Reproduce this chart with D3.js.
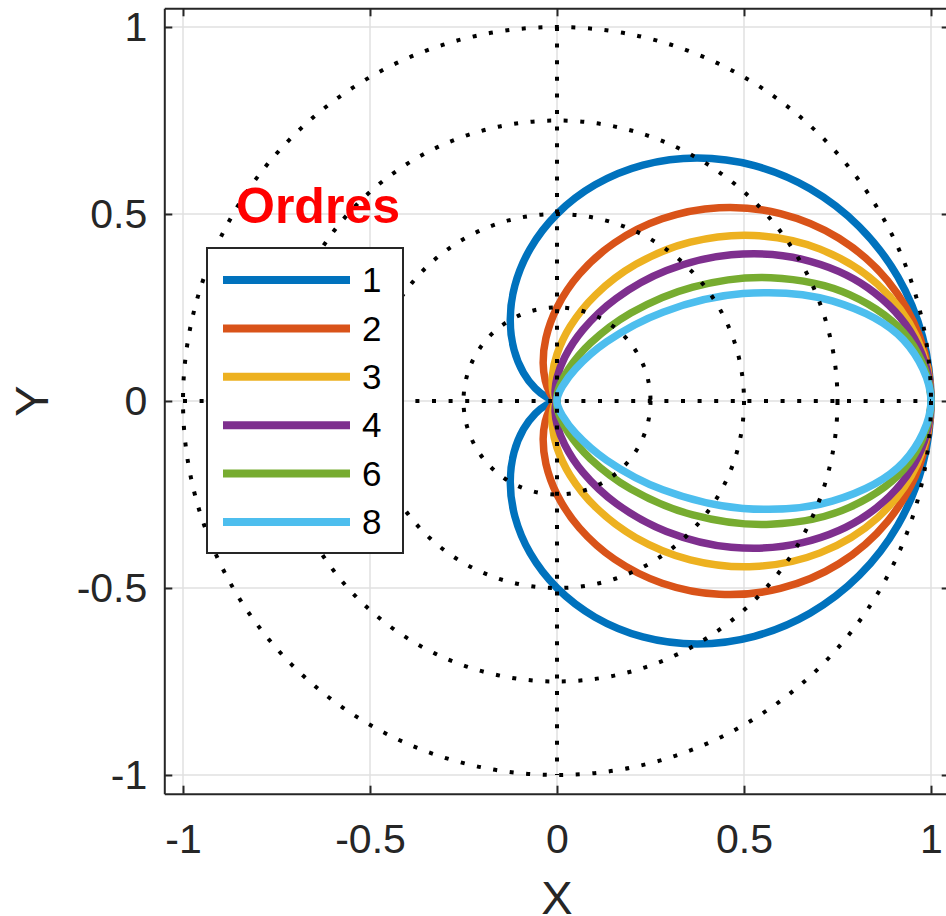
<!DOCTYPE html>
<html>
<head>
<meta charset="utf-8">
<script src="https://cdn.jsdelivr.net/npm/d3@7"></script>
<style>
  body { margin: 0; background: #fff; }
  svg { font-family: "Liberation Sans", Arial, Helvetica, sans-serif; }
</style>
</head>
<body>
<svg id="chart" width="946" height="916"></svg>
<script>
// polar angles (deg) of the sampled points, upper half; lower half is the mirror image
const anglesDeg = [0,10,20,30,40,50,60,70,80,90,100,110,120,130,140,150,160,170,180]

// radius for each order
const r1 = [1,0.9924,0.9699,0.9330,0.8830,0.8214,0.75,0.6710,0.5868,0.5,0.4132,0.3290,0.25,0.1786,0.1170,0.0670,0.0302,0.0076,0]
const r2 = [1,0.9849,0.9406,0.8705,0.7797,0.6747,0.5625,0.4503,0.3444,0.25,0.1707,0.1082,0.0625,0.0319,0.0137,0.0045,0.0009,0.0001,0]
const r3 = [1,0.9774,0.9123,0.8122,0.6885,0.5542,0.4219,0.3021,0.2021,0.125,0.0705,0.0356,0.0156,0.0057,0.0016,0.0003,0,0,0]
const r4 = [1,0.9700,0.8848,0.7578,0.6080,0.4552,0.3164,0.2027,0.1186,0.0625,0.0292,0.0117,0.0039,0.0010,0.0002,0,0,0,0]
const r6 = [1,0.9553,0.8322,0.6597,0.4741,0.3071,0.1780,0.0913,0.0408,0.0156,0.0050,0.0013,0.0002,0,0,0,0,0,0]
const r8 = [1,0.9408,0.7828,0.5743,0.3696,0.2072,0.1001,0.0411,0.0141,0.0039,0.0009,0.0001,0,0,0,0,0,0,0]

const orders = ["1","2","3","4","6","8"]
const colors = ["#0072BD","#D95319","#EDB120","#7E2F8E","#77AC30","#4DBEEE"]
const radiiByOrder = [r1,r2,r3,r4,r6,r8]

const ringRadii = [0.25,0.5,0.75,1]
const xTicks = [-1,-0.5,0,0.5,1]
const yTicks = [-1,-0.5,0,0.5,1]

const svg = d3.select("#chart")
const mLeft = 164.3, mRight = 949.7, mTop = 8.3, mBottom = 793.7

let xScale = d3.scaleLinear().domain([-1.05,1.05]).range([mLeft,mRight])
let yScale = d3.scaleLinear().domain([-1.05,1.05]).range([mBottom,mTop])

// grid
svg.append("g").selectAll("line").data(xTicks).enter().append("line")
    .attr("x1",d=>xScale(d)).attr("x2",d=>xScale(d))
    .attr("y1",mTop).attr("y2",mBottom)
    .attr("stroke","#e0e0e0").attr("stroke-width",1.5)
svg.append("g").selectAll("line").data(yTicks).enter().append("line")
    .attr("y1",d=>yScale(d)).attr("y2",d=>yScale(d))
    .attr("x1",mLeft).attr("x2",mRight)
    .attr("stroke","#e0e0e0").attr("stroke-width",1.5)

// curves
function toPoints(r){
    let pts = []
    anglesDeg.forEach((a,i)=>{
        let t = a*Math.PI/180
        pts.push([r[i]*Math.cos(t), r[i]*Math.sin(t)])
    })
    for(let i = anglesDeg.length-2; i>0; i--){
        let t = anglesDeg[i]*Math.PI/180
        pts.push([r[i]*Math.cos(t), -r[i]*Math.sin(t)])
    }
    // drop repeated points at the origin
    return pts.filter((p,i,arr)=> i==0 || Math.hypot(p[0]-arr[i-1][0],p[1]-arr[i-1][1])>1e-6)
}

let line = d3.line()
    .x(d=>xScale(d[0]))
    .y(d=>yScale(d[1]))
    .curve(d3.curveCatmullRomClosed.alpha(0.5))

svg.append("g").selectAll("path").data(radiiByOrder).enter().append("path")
    .attr("d",d=>line(toPoints(d)))
    .attr("fill","none")
    .attr("stroke",(d,i)=>colors[i])
    .attr("stroke-width",7.5)
    .attr("stroke-linejoin","round")

// dotted polar guides
let dots = svg.append("g")
    .attr("fill","none").attr("stroke","#000")
    .attr("stroke-width",4).attr("stroke-dasharray","4 12.6")
dots.selectAll("circle").data(ringRadii).enter().append("circle")
    .attr("cx",xScale(0)).attr("cy",yScale(0))
    .attr("r",d=>xScale(d)-xScale(0))
dots.append("line")
    .attr("x1",xScale(-1)).attr("x2",xScale(1))
    .attr("y1",yScale(0)).attr("y2",yScale(0))
dots.append("line")
    .attr("x1",xScale(0)).attr("x2",xScale(0))
    .attr("y1",yScale(1)).attr("y2",yScale(-1))

// axes
let fmt = d=>String(d)
let x_axis = d3.axisBottom(xScale).tickValues(xTicks).tickFormat(fmt).tickSizeInner(-8).tickSizeOuter(0).tickPadding(30)
let y_axis = d3.axisLeft(yScale).tickValues(yTicks).tickFormat(fmt).tickSizeInner(-8).tickSizeOuter(0).tickPadding(17)
let x_top = d3.axisTop(xScale).tickValues(xTicks).tickFormat("").tickSizeInner(-8).tickSizeOuter(0)
let y_right = d3.axisRight(yScale).tickValues(yTicks).tickFormat("").tickSizeInner(-8).tickSizeOuter(0)

function styleAxis(g){
    g.selectAll("path,line").attr("stroke","#262626").attr("stroke-width",2)
    g.selectAll("text").attr("fill","#262626").style("font-size","41px")
        .style("font-family","'Liberation Sans', Arial, Helvetica, sans-serif")
}
svg.append("g").attr("transform",`translate(0,${mBottom})`).call(x_axis).call(styleAxis)
svg.append("g").attr("transform",`translate(${mLeft},0)`).call(y_axis).call(styleAxis)
svg.append("g").attr("transform",`translate(0,${mTop})`).call(x_top).call(styleAxis)
svg.append("g").attr("transform",`translate(${mRight},0)`).call(y_right).call(styleAxis)

// labels
svg.append("text")
    .attr("x",xScale(0)).attr("y",914)
    .attr("text-anchor","middle")
    .attr("fill","#262626").style("font-size","47px")
    .text("X")
svg.append("g")
    .attr("transform",`translate(48,${yScale(0)}) rotate(270)`)
    .append("text")
    .attr("text-anchor","middle")
    .attr("fill","#262626").style("font-size","47px")
    .text("Y")

// legend
let legend = svg.append("g")
legend.append("rect")
    .attr("x",207).attr("y",248).attr("width",196).attr("height",305)
    .attr("fill","#fff").attr("stroke","#262626").attr("stroke-width",2)
orders.forEach((o,i)=>{
    let y = 280 + i*48.4
    legend.append("line")
        .attr("x1",223).attr("x2",350).attr("y1",y).attr("y2",y)
        .attr("stroke",colors[i]).attr("stroke-width",8)
    legend.append("text")
        .attr("x",362).attr("y",y)
        .attr("dy","0.35em")
        .attr("fill","#000").style("font-size","35px")
        .text(o)
})
legend.append("text")
    .attr("x",318).attr("y",223)
    .attr("text-anchor","middle")
    .attr("fill","#ff0000").style("font-size","50px").style("font-weight","bold")
    .text("Ordres")
</script>
</body>
</html>
